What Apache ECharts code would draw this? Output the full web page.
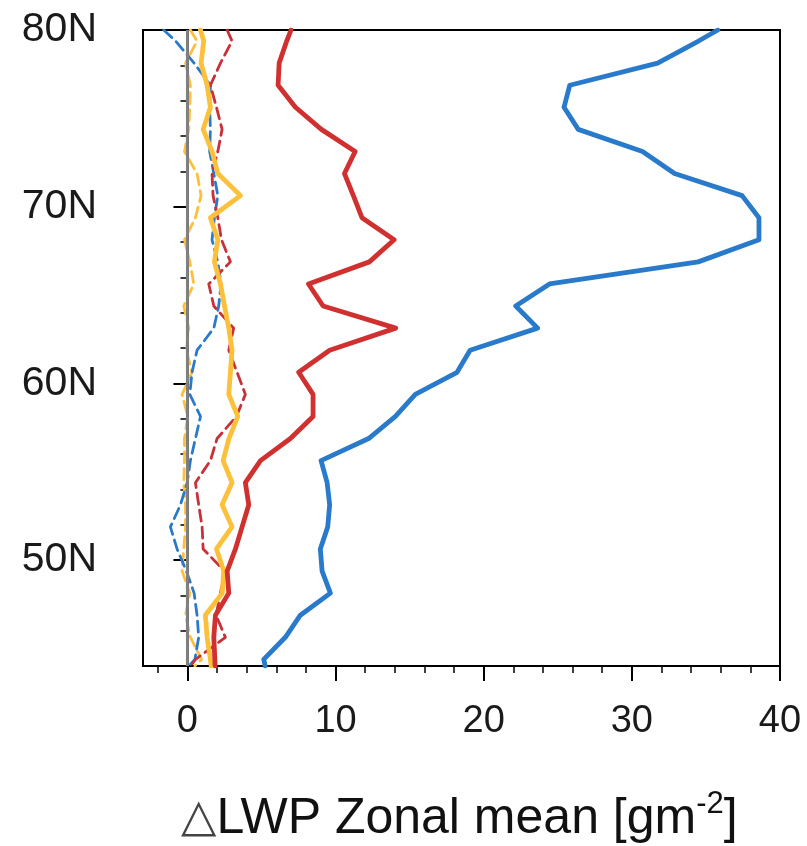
<!DOCTYPE html>
<html>
<head>
<meta charset="utf-8">
<script src="https://cdn.jsdelivr.net/npm/echarts@6/dist/echarts.min.js"></script>
<style>html,body{margin:0;padding:0;background:#fff}#c{width:807px;height:846px}</style>
</head>
<body>
<div id="c"></div>
<script>
// Latitudes (deg N) of the profile points
const lats = [80, 79.375, 78.125, 76.875, 75.625, 74.375, 73.125, 71.875, 70.625, 69.375, 68.125, 66.875, 65.625, 64.375, 63.125, 61.875, 60.625, 59.375, 58.125, 56.875, 55.625, 54.375, 53.125, 51.875, 50.625, 49.375, 48.125, 46.875, 45.625, 44.375, 44];

const blueSolid = [35.8, 34.5, 31.74, 25.81, 25.42, 26.38, 30.72, 32.88, 37.44, 38.58, 38.58, 34.48, 24.44, 22.16, 23.64, 19.08, 18.2, 15.38, 14.04, 12.23, 9.02, 9.43, 9.6, 9.47, 8.97, 9.09, 9.65, 7.62, 6.61, 5.15, 5.25];
const redSolid = [6.99, 6.7, 6.19, 6.12, 7.29, 9.04, 11.32, 10.6, 11.2, 11.78, 13.95, 12.28, 8.17, 9.16, 14.06, 9.6, 7.51, 8.48, 8.48, 6.95, 4.93, 3.91, 4.14, 3.69, 3.24, 2.68, 2.79, 1.89, 1.78, 1.85, 1.87];
const yellowSolid = [0.88, 1.1, 0.92, 1.33, 1.55, 1.06, 1.66, 2.05, 3.58, 1.55, 2.05, 1.82, 2.23, 2.5, 2.79, 3.01, 2.9, 2.79, 3.4, 2.8, 2.41, 3.01, 2.34, 3.01, 1.96, 2.45, 2.35, 1.21, 1.33, 1.55, 1.6];
const redDashed = [2.68, 3.01, 2.23, 1.55, 1.96, 2.34, 2.05, 1.66, 1.73, 2.05, 2.3, 2.9, 1.44, 1.78, 3.12, 2.79, 3.35, 3.91, 3.31, 2.0, 1.55, 0.54, 0.76, 0.99, 1.06, 2.5, 2.23, 1.93, 2.56, 0.55, 0.2];
const blueDashed = [-1.6, -0.8, 0.45, 1.55, 1.5, 1.55, 1.5, 1.78, 2.05, 1.82, 1.66, 2.05, 2.27, 2.11, 1.78, 0.65, 0.31, 0.16, 0.88, 0.54, 0.2, -0.02, -0.47, -1.15, -0.7, -0.07, 0.45, 0.65, 0.76, 0.5, 0.1];
const yellowDashed = [0.2, 0.65, -0.13, 0.2, 0.16, 0.09, -0.2, 0.65, 0.92, 0.54, -0.2, 0.16, 0.43, -0.25, 0.09, -0.07, 0.31, -0.36, 0.02, -0.2, -0.2, -0.25, -0.13, -0.13, -0.25, -0.36, 0.16, -0.13, 0.2, 0.95, 0.5];
const zeroLine = [0, 0];
const zeroLats = [44, 80];

// Axis ticks
const xMajorTicks = [0, 10, 20, 30, 40];
const xMinorTicks = [-2, 0, 2, 4, 6, 8, 10, 12, 14, 16, 18, 20, 22, 24, 26, 28, 30, 32, 34, 36, 38, 40];
const yMajorTicks = [50, 60, 70, 80];
const yMinorTicks = [44, 46, 48, 50, 52, 54, 56, 58, 60, 62, 64, 66, 68, 70, 72, 74, 76, 78, 80];

const pairs = (xs, ys) => xs.map((v, i) => [v, ys[i]]);

const FONT = 'Liberation Sans';
const chart = echarts.init(document.getElementById('c'), null, {renderer: 'canvas'});

function mkX(ticks, len, w, showLabel) {
  return {
    type: 'value', min: -3, max: 40, position: 'bottom',
    axisLine: {show: showLabel, lineStyle: {color: '#000', width: 2}},
    axisTick: {show: true, customValues: ticks, length: len, lineStyle: {color: '#000', width: w}},
    axisLabel: {show: showLabel, customValues: xMajorTicks, margin: 37, fontSize: 38, color: '#1a1a1a', fontFamily: FONT},
    splitLine: {show: false}
  };
}
function mkY(ticks, len, w, showLabel) {
  return {
    type: 'value', min: 44, max: 80, position: 'left',
    axisLine: {show: showLabel, lineStyle: {color: '#000', width: 2}},
    axisTick: {show: true, customValues: ticks, length: len, lineStyle: {color: '#000', width: w}},
    axisLabel: {show: showLabel, customValues: yMajorTicks, margin: 46, fontSize: 41, color: '#1a1a1a', fontFamily: FONT,
      formatter: v => v + 'N'},
    splitLine: {show: false}
  };
}

function line(xs, color, width, dashed, z) {
  return {
    type: 'line', xAxisIndex: 0, yAxisIndex: 0,
    data: pairs(xs, lats), showSymbol: false, symbol: 'none', clip: true, z: z,
    lineStyle: {color: color, width: width, type: dashed ? [11, 6] : 'solid', cap: 'round', join: 'round'},
    animation: false
  };
}

chart.setOption({
  animation: false,
  backgroundColor: '#fff',
  grid: {left: 143, top: 30, width: 637, height: 636, show: true, borderColor: '#000', borderWidth: 2, backgroundColor: 'transparent'},
  title: {
    text: '{d|△}LWP Zonal mean [gm{s|-2}]',
    left: 176, top: 784,
    textStyle: {
      fontSize: 50, fontWeight: 'normal', color: '#111', fontFamily: FONT,
      rich: {
        d: {fontFamily: 'DejaVu Sans', fontSize: 46, color: '#444'},
        s: {fontSize: 31, fontFamily: FONT, color: '#111', padding: [0, 0, 30, 0]}
      }
    }
  },
  xAxis: [mkX(xMajorTicks, 15, 2, true), mkX(xMinorTicks, 7, 1.5, false)],
  yAxis: [mkY(yMajorTicks, 14, 2, true), mkY(yMinorTicks, 7, 1.5, false)],
  series: [
    line(yellowDashed, '#fdbf3c', 2.8, true, 2),
    line(blueDashed, '#2a7acb', 2.8, true, 2),
    line(redDashed, '#c8303a', 2.8, true, 2),
    {
      type: 'line', data: pairs(zeroLine, zeroLats), showSymbol: false, symbol: 'none', z: 3,
      lineStyle: {color: '#808080', width: 3}, animation: false
    },
    line(yellowSolid, '#fdc03a', 4.8, false, 4),
    line(redSolid, '#d0302f', 4.8, false, 5),
    line(blueSolid, '#2a7acb', 4.8, false, 5)
  ]
});
</script>
</body>
</html>
